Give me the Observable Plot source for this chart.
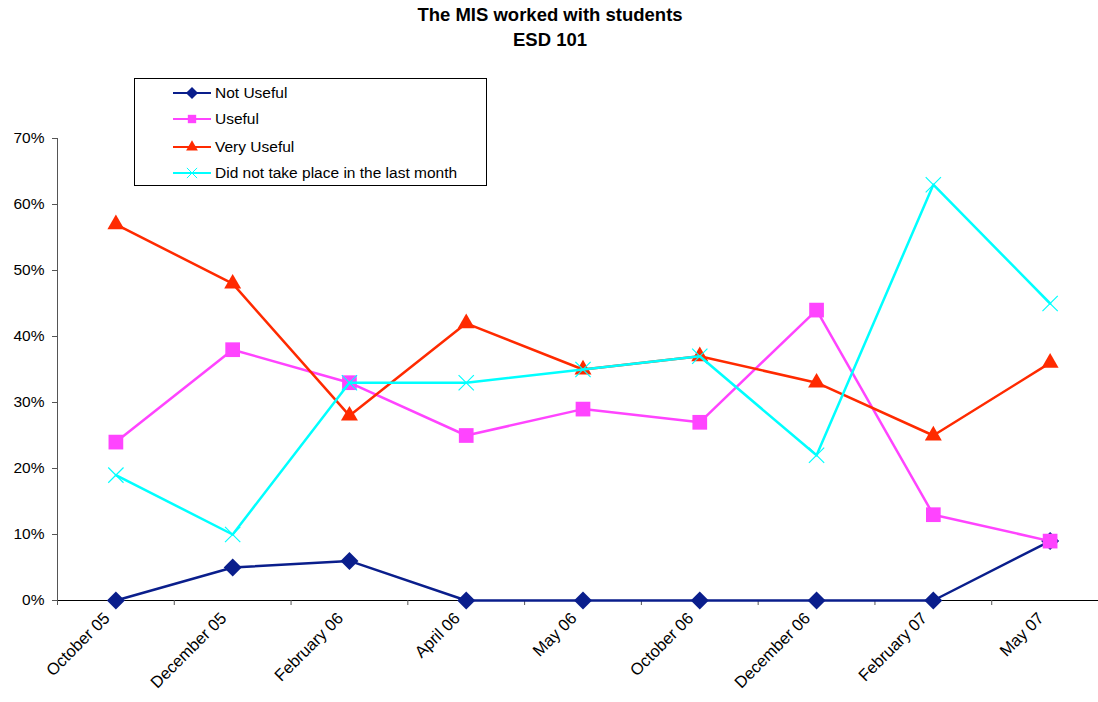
<!DOCTYPE html>
<html>
<head>
<meta charset="utf-8">
<script src="https://cdn.jsdelivr.net/npm/d3@7"></script>
<script src="https://cdn.jsdelivr.net/npm/@observablehq/plot@0.6"></script>
<style>
  html, body { margin: 0; padding: 0; background: #fff; overflow: hidden; }
  body { font-family: "Liberation Sans", Arial, sans-serif; }
  #wrap { position: relative; width: 1098px; height: 702px; }
  #title { position: absolute; left: 0; top: 2px; width: 1100px; text-align: center; font-weight: bold; font-size: 18.5px; line-height: 25px; color: #000; }
  #legend { position: absolute; left: 134px; top: 78px; width: 351px; height: 106px; border: 1px solid #000; background: #fff; box-sizing: content-box; }
  .lrow { position: absolute; left: 37px; height: 20px; display: flex; align-items: center; font-size: 15.5px; color: #000; }
  .lrow svg { margin-right: 3px; }
  #chart { position: absolute; left: 0; top: 0; }
</style>
</head>
<body>
<div id="wrap">
  <div id="chart"></div>
  <div id="title">The MIS worked with students<br>ESD 101</div>
  <div id="legend"></div>
</div>
<script>
const categories = ["October 05", "December 05", "February 06", "April 06", "May 06", "October 06", "December 06", "February 07", "May 07"];
const seriesNames = ["Not Useful", "Useful", "Very Useful", "Did not take place in the last month"];
const notUseful = [0, 5, 6, 0, 0, 0, 0, 0, 9];
const useful = [24, 38, 33, 25, 29, 27, 44, 13, 9];
const veryUseful = [57, 48, 28, 42, 35, 37, 33, 25, 36];
const didNotTakePlace = [19, 10, 33, 33, 35, 37, 22, 63, 45];
const yTicks = [0, 10, 20, 30, 40, 50, 60, 70];

const seriesValues = [notUseful, useful, veryUseful, didNotTakePlace];
const colors = ["#0a1e8c", "#ff44ff", "#ff2a00", "#00ffff"];

// square-cornered diamond (as in spreadsheet charts)
const squareDiamond = {
  draw(context, size) {
    const h = Math.sqrt(size / Math.PI) * 1.2;
    context.moveTo(0, -h);
    context.lineTo(h, 0);
    context.lineTo(0, h);
    context.lineTo(-h, 0);
    context.closePath();
  }
};
const symbols = [squareDiamond, "square", "triangle", "times"];
const symbolR = [7.5, 8.3, 6.3, 7];

const data = [];
seriesValues.forEach((vals, s) => vals.forEach((v, i) => data.push({series: seriesNames[s], s, i, v: v / 100})));

const marks = [];
marks.push(Plot.ruleY([0], {stroke: "#000", strokeWidth: 1}));
marks.push(Plot.frame({anchor: "left", stroke: "#555"}));
marks.push(Plot.axisY(yTicks.map(d => d / 100), {tickFormat: d => Math.round(d * 100) + "%", tickSize: 5, tickPadding: 8, fontSize: 15.5, stroke: "#555", label: null}));
marks.push(Plot.axisX(d3.range(-0.5, categories.length, 1), {tickSize: 5, tickFormat: () => "", label: null, stroke: "#555"}));
marks.push(Plot.axisX(d3.range(categories.length), {tickSize: 0, tickPadding: 15, dx: -9, tickRotate: -45, tickFormat: i => categories[i], fontSize: 16.5, label: null}));

seriesNames.forEach((name, s) => {
  const d = data.filter(r => r.s === s);
  marks.push(Plot.line(d, {x: "i", y: "v", stroke: colors[s], strokeWidth: 2.5}));
  if (symbols[s] === "times") {
    marks.push(Plot.dot(d, {x: "i", y: "v", symbol: "times", stroke: colors[s], strokeWidth: 1.2, r: symbolR[s]}));
  } else {
    marks.push(Plot.dot(d, {x: "i", y: "v", symbol: symbols[s], fill: colors[s], stroke: "none", r: symbolR[s]}));
  }
});

const chart = Plot.plot({
  width: 1098,
  height: 702,
  marginLeft: 57,
  marginRight: -10,
  marginTop: 138,
  marginBottom: 102,
  style: {fontFamily: "'Liberation Sans', Arial, sans-serif", fontSize: "15.5px", color: "#000", background: "#fff"},
  x: {type: "linear", domain: [-0.5, categories.length - 0.5], axis: null},
  y: {domain: [0, 0.7], axis: null},
  marks
});
document.getElementById("chart").appendChild(chart);

// legend
const legend = document.getElementById("legend");
const rowTops = [4, 30, 58, 84];
seriesNames.forEach((name, s) => {
  const row = document.createElement("div");
  row.className = "lrow";
  row.style.top = rowTops[s] + "px";
  const svg = d3.create("svg").attr("width", 40).attr("height", 20);
  svg.append("line").attr("x1", 1).attr("x2", 39).attr("y1", 10).attr("y2", 10).attr("stroke", colors[s]).attr("stroke-width", 2);
  const sym = [squareDiamond, d3.symbolSquare, d3.symbolTriangle, d3.symbolTimes][s];
  const size = [80, 70, 60, 70][s];
  const p = svg.append("path").attr("d", d3.symbol(sym, size)()).attr("transform", "translate(20,10)");
  if (s === 3) p.attr("fill", "none").attr("stroke", colors[s]).attr("stroke-width", 1);
  else p.attr("fill", colors[s]);
  row.appendChild(svg.node());
  const span = document.createElement("span");
  span.textContent = name;
  row.appendChild(span);
  legend.appendChild(row);
});
</script>
</body>
</html>
